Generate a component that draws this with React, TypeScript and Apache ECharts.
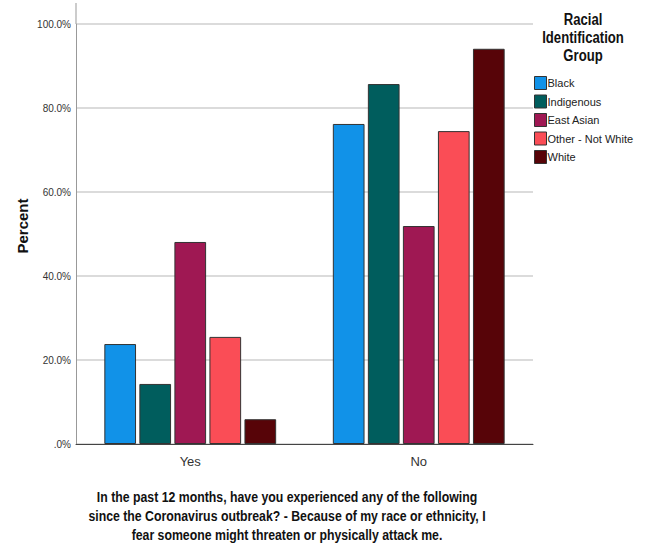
import React, { useEffect, useRef } from "react";
import * as echarts from "echarts";

const categories = ["Yes", "No"];
const groups = ["Black", "Indigenous", "East Asian", "Other - Not White", "White"];
const black = [23.8, 76.2];
const indigenous = [14.3, 85.7];
const eastAsian = [48.1, 51.9];
const otherNotWhite = [25.5, 74.5];
const white = [5.9, 94.1];
const colors = ["#1192e8", "#005d5d", "#9f1853", "#fa4d56", "#570408"];
const yTicks = [0, 20, 40, 60, 80, 100];

const FONT = "'Liberation Sans', Arial, sans-serif";

export default function App() {
  const ref = useRef<HTMLDivElement>(null);
  useEffect(() => {
    if (!ref.current) return;
    const chart = echarts.init(ref.current, null, { renderer: "svg" });
    const seriesData = [black, indigenous, eastAsian, otherNotWhite, white];
    chart.setOption({
      animation: false,
      backgroundColor: "#ffffff",
      grid: { left: 76, top: 24, width: 457, height: 420, containLabel: false },
      legend: {
        orient: "vertical",
        left: 529,
        top: 71,
        itemWidth: 12,
        itemHeight: 13,
        itemGap: 4.5,
        icon: "rect",
        data: groups,
        textStyle: { fontFamily: FONT, fontSize: 11, color: "#222", padding: [0, 0, 0, -4] },
        itemStyle: { borderColor: "#333", borderWidth: 1 },
      },
      xAxis: {
        type: "category",
        data: categories,
        axisLine: { lineStyle: { color: "#444", width: 1 } },
        axisTick: { show: false },
        axisLabel: { fontFamily: FONT, fontSize: 13, color: "#333", margin: 11 },
      },
      yAxis: {
        type: "value",
        min: yTicks[0],
        max: yTicks[yTicks.length - 1],
        interval: 20,
        axisLine: { show: true, lineStyle: { color: "#999", width: 1 } },
        axisTick: { show: false },
        splitLine: { lineStyle: { color: "#cfcfcf", width: 1.5 } },
        axisLabel: {
          fontFamily: FONT,
          fontSize: 10,
          color: "#333",
          margin: 5,
          formatter: (v: number) => (v === 0 ? ".0%" : v.toFixed(1) + "%"),
        },
      },
      series: groups.map((g, i) => ({
        name: g,
        type: "bar",
        data: seriesData[i],
        barWidth: 31.7,
        barGap: "10.5%",
        itemStyle: { color: colors[i], borderColor: "#333", borderWidth: 1 },
      })),
      graphic: [
        {
          type: "line",
          shape: { x1: 76, y1: 3, x2: 76, y2: 24 },
          style: { stroke: "#999", lineWidth: 1 },
        },
        {
          type: "text",
          x: 22,
          y: 226,
          rotation: Math.PI / 2,
          style: {
            text: "Percent",
            fontFamily: FONT,
            fontWeight: "bold",
            fontSize: 15,
            fill: "#111",
            align: "center",
            verticalAlign: "middle",
          },
        },
        {
          type: "text",
          x: 583,
          y: 38,
          scaleX: 0.82,
          style: {
            text: "Racial\nIdentification\nGroup",
            fontFamily: FONT,
            fontWeight: "bold",
            fontSize: 16,
            lineHeight: 18,
            fill: "#111",
            align: "center",
            verticalAlign: "middle",
          },
        },
        {
          type: "text",
          x: 287,
          y: 516,
          scaleX: 0.82,
          style: {
            text:
              "In the past 12 months, have you experienced any of the following\nsince the Coronavirus outbreak? - Because of my race or ethnicity, I\nfear someone might threaten or physically attack me.",
            fontFamily: FONT,
            fontWeight: "bold",
            fontSize: 15,
            lineHeight: 19,
            fill: "#111",
            align: "center",
            verticalAlign: "middle",
          },
        },
      ],
    });
    return () => chart.dispose();
  }, []);
  return (
    <div
      ref={ref}
      style={{ width: 646, height: 546, position: "absolute", left: 0, top: 0 }}
    />
  );
}
